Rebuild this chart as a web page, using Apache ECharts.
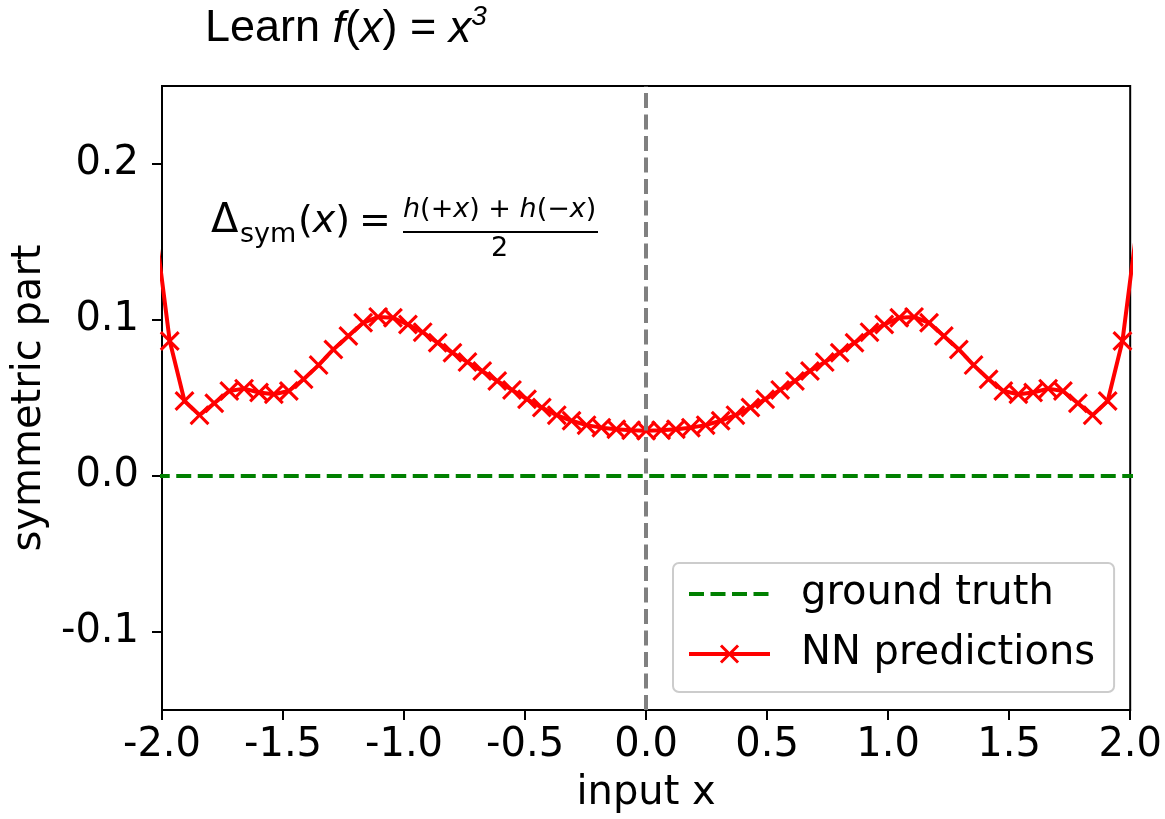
<!DOCTYPE html>
<html>
<head>
<meta charset="utf-8">
<script src="https://cdn.jsdelivr.net/npm/echarts@6/dist/echarts.min.js"></script>
<style>
  html, body { margin: 0; padding: 0; background: #fff; }
  #chart { width: 1165px; height: 819px; }
</style>
</head>
<body>
<div id="chart"></div>
<script>
// sample points (input x)
var xs = [-2.030, -1.968, -1.907, -1.845, -1.784, -1.722, -1.661, -1.599, -1.538, -1.476, -1.415,
  -1.353, -1.292, -1.230, -1.169, -1.107, -1.046, -0.984, -0.923, -0.861, -0.800, -0.738,
  -0.677, -0.615, -0.554, -0.492, -0.431, -0.369, -0.308, -0.246, -0.185, -0.123, -0.062,
  0.000,
  0.062, 0.123, 0.185, 0.246, 0.308, 0.369, 0.431, 0.492, 0.554, 0.615, 0.677,
  0.738, 0.800, 0.861, 0.923, 0.984, 1.046, 1.107, 1.169, 1.230, 1.292, 1.353,
  1.415, 1.476, 1.538, 1.599, 1.661, 1.722, 1.784, 1.845, 1.907, 1.968, 2.030];

// NN predictions of the symmetric part
var nnPred = [0.162, 0.0865, 0.0481, 0.039, 0.0466, 0.0545, 0.056, 0.0535, 0.0524, 0.0545, 0.062,
  0.0711, 0.0811, 0.0897, 0.0982, 0.102, 0.1014, 0.0971, 0.0922, 0.0854, 0.079, 0.073,
  0.0673, 0.0609, 0.0552, 0.0492, 0.0439, 0.039, 0.0354, 0.0326, 0.031, 0.030, 0.0294,
  0.029,
  0.0294, 0.030, 0.031, 0.0326, 0.0354, 0.039, 0.0439, 0.0492, 0.0552, 0.0609, 0.0673,
  0.073, 0.079, 0.0854, 0.0922, 0.0971, 0.1014, 0.102, 0.0982, 0.0897, 0.0811, 0.0711,
  0.062, 0.0545, 0.0524, 0.0535, 0.056, 0.0545, 0.0466, 0.039, 0.0481, 0.0865, 0.162];

// ground truth: symmetric part of x^3 is zero
var truth = [0, 0, 0, 0, 0, 0, 0, 0, 0, 0, 0,
  0, 0, 0, 0, 0, 0, 0, 0, 0, 0, 0,
  0, 0, 0, 0, 0, 0, 0, 0, 0, 0, 0,
  0,
  0, 0, 0, 0, 0, 0, 0, 0, 0, 0, 0,
  0, 0, 0, 0, 0, 0, 0, 0, 0, 0, 0,
  0, 0, 0, 0, 0, 0, 0, 0, 0, 0, 0];

var xTicks = [-2, -1.5, -1, -0.5, 0, 0.5, 1, 1.5, 2];
var yTicks = [-0.1, 0, 0.1, 0.2];
var seriesNames = ['ground truth', 'NN predictions'];

function pairs(a, b) {
  var out = [];
  for (var i = 0; i < a.length; i++) out.push([a[i], b[i]]);
  return out;
}

var FONT = 'DejaVu Sans';
var DASH = [15, 6.5];
var crossPath = 'path://M2.2,0L10,7.8L17.8,0L20,2.2L12.2,10L20,17.8L17.8,20L10,12.2L2.2,20L0,17.8L7.8,10L0,2.2Z';

var chart = echarts.init(document.getElementById('chart'));
chart.setOption({
  animation: false,
  backgroundColor: '#fff',
  title: {
    left: 200,
    top: -2,
    text: '{n|Learn }{i|f}{n|(}{i|x}{n|) = }{i|x}{s|3}',
    textStyle: {
      fontWeight: 'normal',
      rich: {
        n: { fontFamily: 'Liberation Sans', fontWeight: 'normal', fontSize: 45, color: '#000', lineHeight: 52 },
        i: { fontFamily: 'Liberation Sans', fontWeight: 'normal', fontSize: 45, fontStyle: 'italic', color: '#000', lineHeight: 52 },
        s: { fontFamily: 'Liberation Sans', fontWeight: 'normal', fontSize: 28, fontStyle: 'italic', color: '#000', lineHeight: 28, verticalAlign: 'top' }
      }
    }
  },
  grid: {
    left: 162, right: 34, top: 86, bottom: 108,
    show: true, borderColor: '#000', borderWidth: 2
  },
  legend: {
    data: [
      { name: seriesNames[0], itemStyle: { opacity: 0 }, lineStyle: { width: 4, type: DASH, color: '#008000' } },
      { name: seriesNames[1], lineStyle: { width: 4, color: '#ff0000' } }
    ],
    orient: 'vertical',
    left: 673,
    top: 563,
    itemWidth: 81,
    itemHeight: 24,
    itemGap: 20,
    padding: [11, 19, 18, 14],
    backgroundColor: 'rgba(255,255,255,0.85)',
    borderColor: '#ccc',
    borderWidth: 2,
    borderRadius: 6,
    textStyle: { fontFamily: FONT, fontSize: 40, color: '#000', lineHeight: 40, padding: [0, 0, 0, 26] }
  },
  xAxis: {
    type: 'value',
    min: -2, max: 2, interval: 0.5,
    name: 'input x',
    nameLocation: 'middle',
    nameGap: 64,
    nameTextStyle: { fontFamily: FONT, fontSize: 40, color: '#000' },
    axisLine: { show: true, onZero: false, lineStyle: { color: '#000', width: 2 } },
    axisTick: { show: true, length: 10, lineStyle: { color: '#000', width: 2 } },
    axisLabel: {
      fontFamily: FONT, fontSize: 40, color: '#000', margin: 16,
      customValues: xTicks,
      formatter: function (v) { return v.toFixed(1); }
    },
    splitLine: { show: false }
  },
  yAxis: {
    type: 'value',
    min: -0.15, max: 0.25,
    name: 'symmetric part',
    nameLocation: 'middle',
    nameGap: 104,
    nameTextStyle: { fontFamily: FONT, fontSize: 40, color: '#000' },
    axisLine: { show: true, onZero: false, lineStyle: { color: '#000', width: 2 } },
    axisTick: { show: true, length: 10, customValues: yTicks, lineStyle: { color: '#000', width: 2 } },
    axisLabel: {
      fontFamily: FONT, fontSize: 40, color: '#000', margin: 23,
      customValues: yTicks,
      formatter: function (v) { return v.toFixed(1); }
    },
    splitLine: { show: false }
  },
  graphic: [
    { type: 'text', left: 211, top: 202, style: { text: 'Δ', font: '40px "DejaVu Sans"', fill: '#000' } },
    { type: 'text', left: 240, top: 221, style: { text: 'sym', font: '27px "DejaVu Sans"', fill: '#000' } },
    { type: 'text', left: 298, top: 203, style: {
        text: '{a|(}{b|x}{a|)}',
        rich: {
          a: { font: '38px "DejaVu Sans"', fill: '#000' },
          b: { font: 'italic 38px "DejaVu Sans"', fill: '#000' }
        }
    } },
    { type: 'text', left: 359, top: 203, style: { text: '=', font: '38px "DejaVu Sans"', fill: '#000' } },
    { type: 'text', left: 403, top: 196, style: {
        text: '{i|h}{n|(+}{i|x}{n|) + }{i|h}{n|(\u2212}{i|x}{n|)}',
        rich: {
          n: { font: '27px "DejaVu Sans"', fill: '#000' },
          i: { font: 'italic 27px "DejaVu Sans"', fill: '#000' }
        }
    } },
    { type: 'line', shape: { x1: 403, y1: 232, x2: 598, y2: 232 }, style: { stroke: '#000', lineWidth: 2 } },
    { type: 'text', left: 491, top: 235, style: { text: '2', font: '27px "DejaVu Sans"', fill: '#000' } }
  ],
  series: [
    {
      name: seriesNames[0],
      type: 'line',
      data: pairs(xs, truth),
      symbol: 'none',
      clip: true,
      lineStyle: { color: '#008000', width: 4, type: DASH },
      itemStyle: { color: '#008000' },
      z: 2,
      markLine: {
        silent: true,
        symbol: ['none', 'none'],
        label: { show: false },
        lineStyle: { color: '#808080', width: 4, type: DASH },
        data: [{ xAxis: 0 }]
      }
    },
    {
      name: seriesNames[1],
      type: 'line',
      data: pairs(xs, nnPred),
      symbol: crossPath,
      symbolSize: 20,
      showAllSymbol: true,
      clip: true,
      lineStyle: { color: '#ff0000', width: 4 },
      itemStyle: { color: '#ff0000' },
      z: 3
    }
  ]
});
</script>
</body>
</html>
